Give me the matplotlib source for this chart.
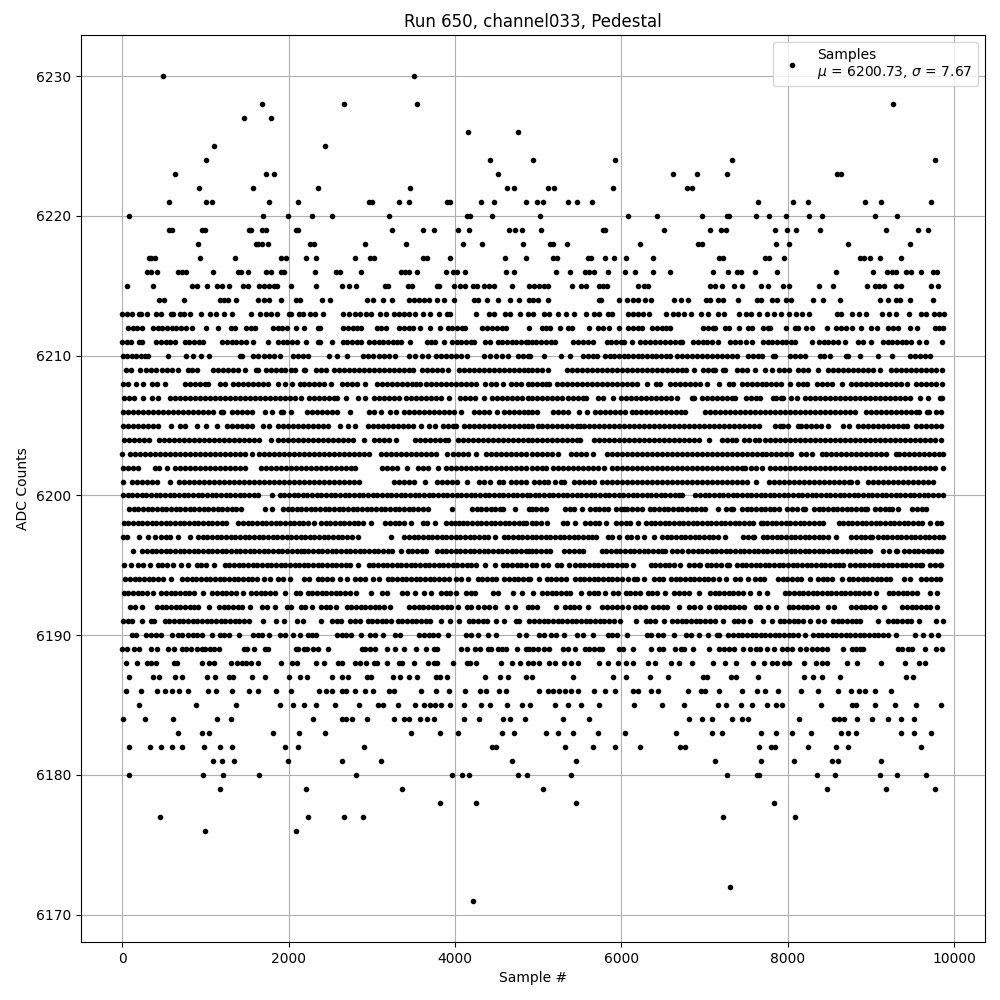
import matplotlib
matplotlib.use("Agg")
import matplotlib.pyplot as plt

TITLE = "Run 650, channel033, Pedestal"
XLABEL = "Sample #"
YLABEL = "ADC Counts"
LEGEND = "Samples\n$\\mu$ = 6200.73, $\\sigma$ = 7.67"

s6230 = [492, 3504]
s6228 = [1680, 2664, 3540, 9268]
s6227 = [1464, 1788]
s6226 = [4152, 4752]
s6225 = [1104, 2436]
s6224 = [1008, 4416, 4936, 5920, 7324, 9772]
s6223 = [636, 1728, 1828, 4512, 6616, 6904, 7264, 8596, 8636]
s6222 = [924, 1572, 2352, 3456, 4620, 4704, 5116, 5188, 5896, 6784, 6844]
s6221 = [564, 1008, 1080, 1764, 2112, 2964, 3004, 3324, 3444, 3904, 3944, 4308, 4464, 4848, 4984, 5064, 5356, 5464, 5644, 7636, 8068, 8248, 8932, 9124, 9724]
s6220 = [84, 1692, 1992, 2280, 2520, 3204, 4144, 4176, 4440, 5020, 6076, 6424, 6964, 7264, 7296, 7612, 7780, 7984, 8260, 8416, 9052, 9316]
s6219 = [564, 604, 964, 992, 1524, 1552, 1684, 1724, 2084, 2112, 3244, 3612, 3744, 4032, 4164, 4644, 4716, 4800, 5032, 5776, 5808, 6508, 7060, 7200, 7256, 7852, 7996, 8104, 8392, 9184, 9568, 9688]
s6218 = [912, 1604, 1636, 1680, 1752, 2256, 2304, 2916, 3408, 4092, 4320, 4812, 5148, 5184, 5344, 6220, 6916, 6964, 7864, 8020, 8728, 9472]
s6217 = [324, 344, 392, 936, 1356, 1904, 1968, 2208, 2328, 2796, 2976, 3024, 3612, 3664, 3944, 4596, 4848, 5176, 5224, 5596, 5636, 5800, 5908, 6052, 6376, 7168, 7216, 7732, 7776, 7956, 8872, 8916, 8992, 9112, 9364]
s6216 = [296, 344, 424, 672, 720, 768, 1092, 1392, 1424, 1512, 1728, 1792, 1904, 1944, 2316, 2568, 2616, 2868, 3348, 3396, 3444, 3544, 3888, 3972, 4024, 4116, 4608, 4704, 5212, 5380, 5560, 5608, 5676, 5836, 6040, 6160, 6376, 6580, 7096, 7276, 7384, 7432, 7600, 7876, 8584, 9028, 9196, 9256, 9296, 9416, 9476, 9604, 9748, 9796]
s6215 = [64, 372, 844, 896, 1020, 1140, 1200, 1280, 1456, 1512, 1644, 1704, 1764, 1824, 1864, 2028, 2328, 2640, 2724, 2808, 3156, 3192, 3432, 3484, 3780, 3812, 3984, 4056, 4124, 4212, 4264, 4344, 4404, 4464, 4680, 4884, 4956, 5016, 5076, 5116, 5404, 5512, 5572, 5728, 5776, 5824, 6196, 6268, 6316, 7060, 7120, 7204, 7348, 7444, 7672, 7768, 7948, 8020, 8380, 8548, 8956, 9052, 9096, 9156, 9304, 9356, 9724, 9808]
s6214 = [444, 504, 740, 1176, 1224, 1272, 1372, 1632, 1704, 1764, 1904, 2088, 2136, 2400, 2496, 2940, 3012, 3136, 3244, 3444, 3504, 3564, 3624, 3684, 3780, 3864, 3984, 4224, 4272, 4380, 4512, 4656, 4764, 4884, 4936, 4996, 5116, 5728, 5760, 5968, 6064, 6136, 6196, 6280, 6352, 6628, 6716, 6796, 7016, 7060, 7156, 7216, 7396, 7624, 7676, 7816, 7876, 7984, 8044, 8300, 8428, 8632, 9112, 9208, 9296, 9344, 9472, 9748]
s6213 = [4, 64, 124, 204, 232, 300, 404, 464, 584, 616, 696, 744, 816, 948, 1056, 1128, 1224, 1320, 1544, 1656, 1724, 1784, 1864, 2004, 2032, 2124, 2176, 2264, 2324, 2412, 2652, 2724, 2804, 2864, 2936, 2996, 3104, 3176, 3264, 3324, 3384, 3444, 3524, 3612, 3704, 3804, 3904, 3944, 4252, 4404, 4464, 4596, 4656, 4776, 4872, 4936, 5076, 5136, 5236, 5336, 5436, 5576, 5676, 5736, 5836, 5888, 6076, 6136, 6196, 6256, 6336, 6532, 6616, 6676, 6756, 6836, 6956, 7036, 7156, 7236, 7416, 7496, 7556, 7656, 7756, 7836, 7916, 8016, 8096, 8168, 8256, 8596, 8636, 8776, 8856, 8936, 9136, 9216, 9296, 9456, 9596, 9656, 9756, 9816, 9876]
s6212 = [72, 128, 184, 236, 372, 428, 480, 540, 596, 652, 708, 764, 836, 1008, 1152, 1312, 1356, 1492, 1548, 1596, 1812, 1868, 1924, 1976, 2084, 2192, 2352, 2376, 2660, 2716, 2772, 2820, 2876, 3060, 3116, 3176, 3332, 3388, 3444, 3500, 3576, 3704, 3824, 3912, 3968, 4024, 4080, 4116, 4324, 4380, 4440, 4500, 4560, 4616, 4884, 5044, 5100, 5148, 5268, 5364, 5408, 5608, 5724, 5780, 5848, 5968, 6084, 6140, 6196, 6248, 6372, 6428, 6488, 6540, 6588, 6984, 7040, 7096, 7128, 7244, 7288, 7408, 7524, 7568, 7704, 7760, 7788, 7984, 8084, 8128, 8224, 8288, 8468, 8584, 8640, 8700, 8768, 8876, 9004, 9068, 9204, 9260, 9328, 9464, 9548, 9764, 9820, 9868]
s6211 = [4, 56, 108, 204, 240, 412, 468, 524, 580, 636, 752, 808, 860, 920, 968, 1204, 1260, 1316, 1372, 1428, 1484, 1576, 1752, 1872, 1928, 1984, 2040, 2096, 2216, 2352, 2376, 2524, 2652, 2708, 2764, 2820, 2876, 2972, 3028, 3084, 3140, 3196, 3252, 3300, 3352, 3456, 3660, 3716, 3756, 3872, 3964, 4020, 4076, 4132, 4192, 4224, 4364, 4420, 4512, 4568, 4624, 4680, 4736, 4792, 4848, 4880, 4924, 4980, 5036, 5092, 5156, 5208, 5424, 5480, 5536, 5600, 5656, 5824, 5880, 5936, 5992, 6032, 6124, 6224, 6284, 6344, 6404, 6464, 6524, 6584, 6644, 6704, 6728, 6864, 6920, 6976, 7032, 7088, 7160, 7304, 7364, 7428, 7500, 7564, 7704, 7760, 7816, 7872, 7928, 7984, 8040, 8088, 8288, 8376, 8432, 8488, 8544, 8600, 8688, 8844, 8900, 8996, 9144, 9200, 9256, 9312, 9368, 9424, 9480, 9572, 9656, 9856]
s6210 = [12, 64, 120, 172, 224, 276, 316, 552, 764, 856, 952, 1044, 1412, 1444, 1572, 1636, 1700, 1764, 1828, 1896, 2052, 2112, 2172, 2240, 2484, 2584, 2704, 2892, 2956, 3020, 3084, 3148, 3212, 3276, 3452, 3524, 3600, 3676, 3772, 3832, 3892, 3952, 4012, 4076, 4144, 4352, 4424, 4496, 4568, 4636, 4752, 4812, 4876, 4896, 5068, 5276, 5384, 5544, 5600, 5656, 5708, 5804, 5860, 5916, 5972, 6028, 6084, 6140, 6196, 6252, 6308, 6364, 6420, 6476, 6532, 6588, 6664, 6724, 6784, 6844, 6904, 6964, 7024, 7084, 7144, 7204, 7264, 7324, 7388, 7524, 7584, 7644, 7688, 7824, 7848, 8024, 8084, 8148, 8208, 8384, 8440, 8508, 8704, 8728, 8864, 9084, 9256, 9464, 9524, 9584, 9644, 9708]
s6209 = [52, 108, 220, 284, 348, 412, 476, 540, 604, 676, 792, 844, 896, 1092, 1152, 1212, 1272, 1332, 1392, 1476, 1612, 1628, 1732, 1792, 1852, 1912, 1956, 2032, 2076, 2192, 2204, 2332, 2392, 2456, 2552, 2612, 2672, 2732, 2792, 2852, 2912, 2972, 3032, 3092, 3152, 3212, 3272, 3332, 3392, 3452, 3496, 3604, 3664, 3724, 3784, 3844, 3916, 4052, 4112, 4172, 4232, 4292, 4352, 4412, 4472, 4532, 4592, 4652, 4712, 4772, 4832, 4876, 4924, 4984, 5044, 5120, 5344, 5404, 5464, 5524, 5584, 5644, 5704, 5764, 5824, 5884, 5944, 6004, 6064, 6124, 6184, 6244, 6304, 6364, 6424, 6484, 6544, 6604, 6664, 6724, 6772, 6876, 6984, 7040, 7100, 7128, 7224, 7248, 7384, 7444, 7504, 7608, 7724, 7808, 7892, 7952, 8020, 8124, 8184, 8244, 8368, 8484, 8544, 8604, 8664, 8724, 8784, 8844, 8904, 8964, 9024, 9108, 9236, 9296, 9356, 9416, 9476, 9536, 9596, 9656, 9716, 9776, 9848]
s6208 = [12, 72, 164, 256, 364, 424, 516, 752, 812, 872, 932, 992, 1036, 1172, 1236, 1332, 1392, 1452, 1512, 1572, 1632, 1692, 1752, 1876, 1952, 2036, 2132, 2192, 2252, 2312, 2372, 2432, 2516, 2644, 2704, 2764, 2824, 2916, 3060, 3120, 3180, 3240, 3300, 3360, 3420, 3480, 3530, 3576, 3652, 3712, 3772, 3832, 3892, 3952, 4012, 4072, 4132, 4192, 4252, 4356, 4432, 4492, 4576, 4672, 4732, 4792, 4876, 4924, 4984, 5044, 5100, 5128, 5224, 5284, 5344, 5404, 5464, 5524, 5584, 5644, 5704, 5764, 5824, 5884, 5944, 6004, 6064, 6124, 6184, 6308, 6412, 6468, 6584, 6644, 6704, 6764, 6824, 6884, 6944, 7028, 7176, 7288, 7344, 7444, 7504, 7564, 7624, 7684, 7744, 7804, 7864, 7924, 8028, 8124, 8184, 8228, 8356, 8416, 8476, 8536, 8648, 8764, 8824, 8884, 8944, 9004, 9064, 9124, 9184, 9244, 9304, 9364, 9428, 9544, 9604, 9664, 9724, 9784, 9848]
s6207 = [20, 80, 140, 256, 364, 436, 572, 632, 692, 752, 812, 872, 932, 992, 1052, 1112, 1172, 1232, 1292, 1352, 1412, 1472, 1532, 1592, 1652, 1712, 1772, 1832, 1892, 1952, 2012, 2072, 2152, 2244, 2304, 2364, 2424, 2484, 2544, 2588, 2696, 2832, 2924, 3032, 3092, 3152, 3212, 3272, 3324, 3412, 3472, 3532, 3592, 3652, 3712, 3772, 3832, 3924, 4060, 4120, 4180, 4240, 4348, 4444, 4504, 4564, 4624, 4684, 4744, 4804, 4876, 4924, 4984, 5044, 5104, 5164, 5224, 5284, 5364, 5416, 5476, 5536, 5576, 5716, 5776, 5900, 5996, 6056, 6116, 6176, 6236, 6296, 6356, 6416, 6476, 6536, 6596, 6668, 6844, 6868, 6964, 7024, 7084, 7144, 7204, 7264, 7324, 7368, 7492, 7552, 7612, 7660, 7824, 7864, 7916, 7948, 8036, 8116, 8204, 8264, 8324, 8384, 8444, 8504, 8564, 8624, 8684, 8744, 8804, 8864, 8924, 8984, 9044, 9104, 9164, 9224, 9284, 9344, 9404, 9464, 9588, 9688, 9824, 9848]
s6206 = [12, 72, 132, 192, 252, 312, 372, 432, 492, 552, 612, 672, 732, 792, 852, 912, 972, 1032, 1096, 1192, 1212, 1324, 1384, 1444, 1504, 1564, 1716, 1804, 1912, 1936, 2032, 2220, 2280, 2340, 2400, 2460, 2520, 2580, 2736, 2972, 3032, 3116, 3220, 3296, 3392, 3452, 3512, 3572, 3632, 3692, 3752, 3812, 3872, 3932, 3992, 4076, 4232, 4292, 4352, 4412, 4508, 4592, 4652, 4712, 4772, 4832, 4876, 4924, 4984, 5184, 5244, 5304, 5360, 5488, 5584, 5684, 5744, 5804, 5864, 5924, 5984, 6044, 6124, 6176, 6236, 6296, 6356, 6416, 6476, 6536, 6596, 6656, 6716, 6764, 7004, 7064, 7124, 7184, 7244, 7304, 7364, 7424, 7484, 7544, 7604, 7664, 7724, 7784, 7844, 7904, 7964, 8024, 8084, 8144, 8204, 8264, 8324, 8384, 8444, 8504, 8564, 8628, 8684, 8744, 8808, 8944, 9004, 9064, 9124, 9184, 9244, 9304, 9364, 9424, 9484, 9544, 9580, 9676, 9700, 9780, 9844]
s6205 = [12, 72, 132, 192, 252, 312, 372, 432, 588, 692, 752, 900, 1004, 1144, 1256, 1316, 1376, 1436, 1496, 1556, 1696, 1768, 1872, 1932, 1992, 2052, 2112, 2172, 2232, 2292, 2352, 2412, 2472, 2616, 2712, 2804, 2952, 3012, 3072, 3132, 3192, 3252, 3312, 3372, 3432, 3492, 3588, 3692, 3756, 3852, 3912, 3972, 4012, 4112, 4172, 4232, 4292, 4352, 4412, 4472, 4532, 4592, 4652, 4712, 4772, 4832, 4876, 4924, 5004, 5044, 5104, 5164, 5224, 5284, 5344, 5404, 5464, 5504, 5556, 5616, 5676, 5736, 5796, 5856, 5916, 5976, 6036, 6096, 6156, 6216, 6276, 6336, 6396, 6456, 6516, 6576, 6636, 6696, 6756, 6816, 6876, 6936, 6996, 7056, 7116, 7176, 7236, 7296, 7356, 7416, 7476, 7536, 7596, 7652, 7844, 7904, 7948, 8008, 8124, 8164, 8224, 8284, 8344, 8404, 8484, 8664, 8740, 8848, 8908, 8968, 9028, 9088, 9148, 9208, 9268, 9328, 9388, 9432, 9544, 9604, 9664, 9724, 9784, 9844]
s6204 = [20, 80, 140, 200, 260, 320, 444, 504, 564, 624, 684, 744, 804, 864, 924, 984, 1044, 1104, 1164, 1224, 1284, 1344, 1404, 1464, 1524, 1584, 1644, 1788, 1872, 1932, 1992, 2052, 2112, 2172, 2232, 2292, 2352, 2412, 2472, 2532, 2592, 2652, 2712, 2772, 2912, 3032, 3092, 3152, 3212, 3288, 3524, 3584, 3644, 3704, 3764, 3824, 3884, 3916, 4032, 4092, 4152, 4212, 4272, 4332, 4392, 4452, 4512, 4572, 4632, 4692, 4752, 4812, 4872, 4924, 4984, 5044, 5104, 5164, 5224, 5284, 5344, 5404, 5464, 5508, 5676, 5736, 5796, 5856, 5916, 5976, 6036, 6096, 6156, 6216, 6276, 6336, 6396, 6456, 6516, 6576, 6636, 6696, 6756, 6816, 6876, 6936, 7048, 7204, 7264, 7324, 7380, 7476, 7536, 7608, 7652, 7724, 7784, 7844, 7904, 7964, 8024, 8084, 8144, 8204, 8264, 8324, 8384, 8444, 8504, 8564, 8624, 8684, 8744, 8804, 8864, 8924, 8984, 9044, 9104, 9164, 9224, 9284, 9344, 9404, 9464, 9524, 9584, 9644, 9704, 9764, 9844]
s6203 = [0, 100, 160, 220, 280, 340, 400, 460, 520, 580, 640, 700, 760, 820, 880, 940, 1000, 1060, 1120, 1180, 1240, 1300, 1360, 1420, 1480, 1556, 1644, 1704, 1764, 1824, 1884, 1944, 2004, 2064, 2124, 2184, 2244, 2304, 2364, 2424, 2484, 2544, 2604, 2664, 2724, 2784, 2844, 2904, 2964, 3116, 3176, 3236, 3296, 3356, 3416, 3476, 3536, 3596, 3656, 3716, 3776, 3908, 3976, 4036, 4096, 4156, 4256, 4372, 4432, 4492, 4552, 4612, 4672, 4732, 4792, 4852, 4924, 4984, 5044, 5104, 5164, 5240, 5396, 5456, 5516, 5576, 5656, 5824, 5884, 5944, 6004, 6064, 6124, 6184, 6244, 6304, 6364, 6424, 6484, 6544, 6604, 6664, 6724, 6784, 6844, 6904, 6964, 7024, 7084, 7144, 7204, 7264, 7324, 7384, 7444, 7504, 7564, 7624, 7684, 7744, 7804, 7864, 7924, 7984, 8044, 8156, 8216, 8292, 8412, 8464, 8524, 8584, 8644, 8704, 8764, 8824, 8884, 8944, 9004, 9064, 9116, 9180, 9300, 9340, 9400, 9460, 9520, 9580, 9640, 9700, 9760, 9820, 9860]
s6202 = [12, 72, 132, 196, 392, 448, 536, 632, 692, 752, 812, 872, 932, 992, 1052, 1112, 1172, 1232, 1292, 1352, 1412, 1472, 1668, 1728, 1788, 1848, 1908, 1968, 2028, 2088, 2148, 2208, 2268, 2328, 2388, 2448, 2508, 2568, 2628, 2688, 2748, 2796, 3124, 3184, 3244, 3304, 3428, 3552, 3612, 3672, 3796, 3892, 3952, 4012, 4072, 4132, 4192, 4252, 4312, 4372, 4432, 4492, 4552, 4612, 4672, 4732, 4792, 4852, 4924, 4984, 5044, 5100, 5184, 5244, 5304, 5364, 5424, 5484, 5544, 5604, 5664, 5724, 5796, 5884, 5944, 6004, 6064, 6124, 6184, 6244, 6304, 6364, 6424, 6484, 6544, 6604, 6664, 6724, 6784, 6844, 6904, 6964, 7024, 7084, 7144, 7204, 7264, 7324, 7384, 7444, 7484, 7556, 7616, 7684, 7784, 7844, 7904, 7964, 8024, 8084, 8144, 8204, 8264, 8324, 8384, 8444, 8504, 8564, 8624, 8684, 8744, 8804, 8864, 8924, 8984, 9044, 9104, 9164, 9224, 9284, 9344, 9404, 9464, 9524, 9584, 9644, 9704, 9764, 9860]
s6201 = [12, 124, 184, 244, 304, 364, 424, 576, 684, 744, 804, 864, 924, 984, 1044, 1104, 1164, 1224, 1284, 1344, 1404, 1464, 1524, 1584, 1644, 1704, 1764, 1824, 1884, 1944, 2004, 2064, 2124, 2184, 2244, 2304, 2364, 2424, 2484, 2544, 2604, 2664, 2724, 2784, 2852, 3272, 3332, 3392, 3452, 3512, 3644, 3784, 3844, 3904, 3964, 4024, 4144, 4292, 4352, 4424, 4524, 4580, 4672, 4732, 4792, 4852, 4956, 5016, 5076, 5120, 5204, 5276, 5316, 5436, 5496, 5556, 5616, 5668, 5772, 5832, 5892, 5952, 6012, 6072, 6132, 6192, 6252, 6312, 6372, 6432, 6492, 6552, 6612, 6672, 6732, 6792, 6852, 6912, 6972, 7032, 7092, 7152, 7212, 7272, 7332, 7392, 7452, 7512, 7612, 7772, 7832, 7892, 7952, 8012, 8072, 8132, 8192, 8252, 8312, 8372, 8432, 8492, 8552, 8612, 8672, 8732, 8764, 8836, 8968, 9028, 9088, 9148, 9208, 9268, 9328, 9388, 9448, 9508, 9568, 9628, 9688, 9744]
s6200 = [12, 68, 124, 180, 236, 292, 348, 404, 460, 516, 572, 628, 684, 740, 796, 852, 908, 964, 1020, 1076, 1132, 1188, 1244, 1300, 1356, 1412, 1468, 1524, 1580, 1636, 1804, 1892, 1948, 2004, 2060, 2116, 2172, 2228, 2284, 2340, 2396, 2452, 2508, 2564, 2620, 2676, 2732, 2788, 2844, 2900, 2956, 3012, 3068, 3124, 3180, 3236, 3292, 3348, 3404, 3460, 3516, 3572, 3628, 3684, 3740, 3796, 3852, 3908, 3964, 4020, 4076, 4132, 4188, 4244, 4300, 4356, 4412, 4468, 4524, 4580, 4636, 4692, 4748, 4804, 4860, 4904, 4960, 5016, 5072, 5128, 5184, 5240, 5296, 5352, 5408, 5464, 5520, 5576, 5632, 5688, 5744, 5800, 5856, 5912, 5968, 6024, 6080, 6136, 6192, 6248, 6304, 6360, 6416, 6472, 6528, 6584, 6640, 6696, 6732, 6888, 6944, 7000, 7056, 7112, 7168, 7224, 7280, 7336, 7392, 7448, 7504, 7560, 7616, 7672, 7728, 7784, 7840, 7896, 7952, 8008, 8064, 8120, 8176, 8232, 8288, 8344, 8400, 8456, 8512, 8568, 8624, 8680, 8736, 8792, 8848, 8904, 8960, 9016, 9072, 9128, 9184, 9240, 9296, 9352, 9408, 9464, 9520, 9576, 9632, 9688, 9744, 9800, 9860]
s6199 = [84, 140, 196, 252, 308, 364, 420, 476, 532, 588, 644, 700, 756, 812, 868, 924, 980, 1036, 1092, 1148, 1204, 1260, 1316, 1372, 1428, 1716, 1804, 1932, 1988, 2044, 2100, 2156, 2212, 2268, 2324, 2380, 2436, 2492, 2548, 2604, 2660, 2716, 2772, 2828, 2884, 2940, 2996, 3052, 3108, 3164, 3220, 3276, 3332, 3388, 3444, 3500, 3556, 3612, 3676, 3964, 4204, 4260, 4316, 4372, 4428, 4484, 4540, 4572, 4716, 4884, 4924, 4980, 5036, 5100, 5324, 5380, 5436, 5524, 5624, 5680, 5736, 5792, 5836, 5936, 5992, 6028, 6072, 6128, 6184, 6252, 6340, 6396, 6452, 6508, 6564, 6620, 6676, 6732, 6788, 6844, 6900, 6956, 7000, 7164, 7260, 7316, 7340, 7448, 7504, 7560, 7616, 7672, 7728, 7784, 7840, 7892, 7996, 8052, 8108, 8184, 8212, 8316, 8372, 8428, 8484, 8540, 8596, 8652, 8708, 8764, 8820, 8876, 8932, 8952, 9052, 9108, 9164, 9220, 9256, 9328, 9496, 9552, 9608, 9656]
s6198 = [20, 76, 132, 188, 244, 300, 356, 412, 468, 524, 580, 636, 692, 748, 804, 860, 916, 972, 1028, 1084, 1140, 1196, 1252, 1396, 1452, 1508, 1564, 1620, 1676, 1732, 1788, 1844, 1900, 1956, 2012, 2068, 2124, 2180, 2236, 2308, 2392, 2448, 2504, 2560, 2616, 2672, 2728, 2784, 2840, 2896, 2988, 3164, 3220, 3276, 3332, 3388, 3476, 3612, 3668, 3764, 3892, 3948, 4004, 4052, 4092, 4148, 4204, 4260, 4316, 4372, 4428, 4484, 4540, 4596, 4652, 4708, 4764, 4820, 4856, 4924, 4980, 5036, 5108, 5296, 5352, 5448, 5568, 5624, 5680, 5736, 5816, 5940, 5996, 6052, 6108, 6196, 6296, 6352, 6408, 6464, 6520, 6576, 6632, 6688, 6744, 6800, 6856, 6912, 6968, 7024, 7080, 7136, 7192, 7248, 7304, 7360, 7416, 7472, 7528, 7584, 7672, 7696, 7752, 7808, 7864, 7920, 7976, 8032, 8088, 8144, 8200, 8256, 8312, 8372, 8424, 8612, 8664, 8720, 8776, 8832, 8888, 8944, 9000, 9056, 9112, 9168, 9224, 9280, 9336, 9392, 9448, 9504, 9560, 9612, 9712, 9788, 9844]
s6197 = [12, 60, 204, 312, 392, 472, 524, 580, 676, 816, 912, 968, 1024, 1080, 1136, 1192, 1248, 1304, 1360, 1416, 1472, 1528, 1584, 1640, 1696, 1752, 1808, 1864, 1920, 1976, 2032, 2088, 2144, 2200, 2256, 2312, 2368, 2424, 2480, 2536, 2592, 2648, 2704, 2760, 2832, 3232, 3392, 3448, 3504, 3560, 3616, 3672, 3728, 3784, 3840, 3896, 3952, 4008, 4064, 4120, 4176, 4232, 4288, 4344, 4400, 4480, 4584, 4640, 4696, 4752, 4808, 4864, 4924, 4980, 5036, 5092, 5148, 5204, 5260, 5316, 5372, 5428, 5484, 5540, 5596, 5652, 5692, 5836, 5892, 5968, 6064, 6120, 6184, 6268, 6388, 6488, 6544, 6600, 6656, 6712, 6768, 6824, 6880, 6936, 6992, 7048, 7104, 7160, 7240, 7464, 7520, 7580, 7596, 7700, 7756, 7812, 7868, 7924, 7980, 8036, 8092, 8148, 8204, 8260, 8316, 8372, 8428, 8484, 8576, 8764, 8820, 8876, 8932, 8988, 9012, 9084, 9140, 9196, 9252, 9308, 9364, 9420, 9476, 9532, 9588, 9644, 9700, 9756, 9812, 9868]
s6196 = [132, 244, 300, 356, 412, 468, 524, 580, 636, 692, 748, 804, 860, 916, 972, 1028, 1084, 1140, 1196, 1252, 1308, 1364, 1420, 1476, 1532, 1588, 1644, 1700, 1756, 1812, 1868, 1924, 1980, 2036, 2104, 2156, 2184, 2240, 2296, 2352, 2408, 2464, 2520, 2576, 2632, 2688, 2744, 2800, 2856, 2912, 2968, 3024, 3080, 3136, 3192, 3248, 3356, 3432, 3488, 3544, 3600, 3648, 3784, 3840, 3896, 3952, 4008, 4064, 4120, 4176, 4232, 4288, 4344, 4400, 4456, 4512, 4568, 4624, 4680, 4736, 4792, 4848, 4884, 4924, 4980, 5036, 5092, 5148, 5316, 5376, 5436, 5496, 5540, 5764, 5820, 5876, 5932, 5988, 6044, 6100, 6156, 6212, 6268, 6324, 6380, 6436, 6492, 6528, 6608, 6664, 6728, 6804, 6860, 6916, 6972, 7028, 7084, 7140, 7196, 7252, 7308, 7364, 7420, 7476, 7532, 7588, 7644, 7700, 7756, 7812, 7868, 7924, 7980, 8036, 8092, 8148, 8204, 8260, 8316, 8372, 8428, 8484, 8540, 8596, 8652, 8708, 8764, 8820, 8876, 8932, 8984, 9140, 9216, 9296, 9316, 9400, 9456, 9512, 9568, 9624, 9680, 9736, 9792, 9844]
s6195 = [20, 108, 192, 248, 332, 428, 484, 540, 616, 708, 796, 900, 952, 1012, 1104, 1232, 1288, 1344, 1400, 1456, 1512, 1568, 1624, 1680, 1736, 1792, 1848, 1904, 1960, 2016, 2072, 2128, 2184, 2240, 2296, 2352, 2408, 2464, 2520, 2576, 2632, 2688, 2744, 2836, 2964, 3020, 3076, 3132, 3188, 3244, 3300, 3356, 3412, 3468, 3524, 3580, 3636, 3692, 3748, 3804, 3860, 3916, 3972, 4028, 4084, 4140, 4196, 4248, 4364, 4484, 4572, 4628, 4684, 4740, 4796, 4852, 4924, 4980, 5056, 5124, 5224, 5280, 5372, 5444, 5500, 5556, 5612, 5668, 5724, 5780, 5836, 5892, 5948, 6004, 6060, 6136, 6352, 6408, 6464, 6520, 6576, 6632, 6708, 6816, 6872, 6928, 6948, 7024, 7080, 7136, 7192, 7264, 7292, 7388, 7444, 7500, 7556, 7612, 7668, 7724, 7780, 7836, 7892, 7948, 8004, 8060, 8116, 8172, 8228, 8284, 8340, 8396, 8452, 8508, 8564, 8620, 8664, 8752, 8808, 8864, 8920, 8976, 9032, 9088, 9144, 9200, 9256, 9312, 9368, 9424, 9480, 9536, 9592, 9616, 9712, 9768, 9824, 9844]
s6194 = [40, 96, 152, 208, 264, 320, 376, 432, 496, 592, 724, 780, 836, 892, 948, 1004, 1060, 1116, 1172, 1228, 1284, 1340, 1396, 1452, 1508, 1564, 1616, 1704, 1776, 1872, 1928, 2016, 2192, 2244, 2352, 2408, 2464, 2520, 2616, 2704, 2804, 2860, 2916, 3016, 3084, 3192, 3248, 3304, 3360, 3416, 3472, 3528, 3584, 3640, 3696, 3752, 3808, 3864, 3924, 4012, 4068, 4156, 4272, 4328, 4384, 4440, 4496, 4592, 4648, 4704, 4760, 4816, 4876, 4896, 5008, 5104, 5160, 5216, 5276, 5340, 5444, 5500, 5556, 5612, 5668, 5724, 5780, 5836, 5892, 5948, 6004, 6076, 6156, 6188, 6268, 6396, 6452, 6500, 6596, 6652, 6708, 6764, 6820, 6876, 6932, 6988, 7044, 7100, 7176, 7256, 7364, 7428, 7516, 7604, 7660, 7716, 7884, 7940, 7996, 8052, 8108, 8164, 8268, 8364, 8420, 8476, 8532, 8648, 8732, 8788, 8844, 8900, 8956, 9012, 9068, 9124, 9180, 9228, 9396, 9468, 9604, 9660, 9716, 9780, 9828]
s6193 = [20, 76, 132, 188, 244, 300, 376, 472, 528, 584, 640, 696, 752, 808, 864, 976, 1084, 1140, 1196, 1252, 1308, 1364, 1456, 1552, 1608, 1664, 1720, 1776, 1832, 1956, 2084, 2136, 2232, 2288, 2344, 2400, 2456, 2512, 2568, 2624, 2680, 2736, 2816, 2992, 3124, 3188, 3364, 3420, 3524, 3632, 3716, 3832, 3888, 3944, 4016, 4132, 4188, 4236, 4452, 4516, 4700, 4804, 4936, 5052, 5108, 5164, 5220, 5276, 5332, 5388, 5516, 5612, 5668, 5724, 5800, 5900, 5956, 6052, 6108, 6164, 6220, 6316, 6372, 6428, 6528, 6636, 6692, 6748, 6808, 6928, 7064, 7120, 7176, 7232, 7288, 7344, 7400, 7456, 7548, 7656, 7756, 7964, 8020, 8076, 8132, 8188, 8244, 8300, 8356, 8412, 8468, 8524, 8580, 8636, 8692, 8748, 8804, 8860, 8916, 8972, 9056, 9212, 9268, 9324, 9380, 9436, 9492, 9556, 9704, 9796]
s6192 = [100, 156, 236, 420, 476, 532, 588, 644, 700, 756, 812, 868, 916, 1044, 1164, 1220, 1276, 1332, 1388, 1444, 1536, 1684, 1740, 1836, 1980, 2028, 2152, 2196, 2284, 2392, 2448, 2504, 2576, 2700, 2756, 2812, 2868, 2924, 2980, 3036, 3092, 3148, 3216, 3452, 3508, 3564, 3620, 3676, 3732, 3788, 3844, 3900, 3956, 4036, 4140, 4196, 4276, 4352, 4408, 4476, 4624, 4716, 4872, 4924, 4988, 5216, 5324, 5380, 5436, 5496, 5596, 5772, 5828, 5884, 5948, 6008, 6076, 6164, 6220, 6288, 6384, 6440, 6496, 6552, 6688, 6812, 6868, 6940, 7048, 7132, 7188, 7244, 7300, 7356, 7412, 7476, 7612, 7668, 7768, 7856, 8012, 8068, 8124, 8180, 8236, 8292, 8348, 8488, 8556, 8764, 8820, 8876, 8932, 8988, 9044, 9156, 9376, 9432, 9488, 9544, 9600, 9656, 9712, 9796]
s6191 = [12, 68, 124, 244, 352, 388, 512, 568, 624, 680, 736, 792, 848, 904, 960, 1016, 1072, 1128, 1184, 1240, 1296, 1352, 1408, 1464, 1524, 1696, 1852, 1948, 2100, 2176, 2392, 2524, 2580, 2636, 2740, 2796, 2856, 2952, 3008, 3064, 3120, 3176, 3236, 3312, 3368, 3424, 3480, 3536, 3592, 3648, 3704, 3836, 3940, 4044, 4164, 4220, 4276, 4332, 4388, 4496, 4592, 4732, 4764, 4884, 4956, 5012, 5068, 5124, 5180, 5236, 5292, 5348, 5404, 5460, 5516, 5572, 5628, 5684, 5740, 5796, 5852, 5908, 5988, 6176, 6292, 6348, 6404, 6508, 6612, 6668, 6724, 6780, 6836, 6892, 6948, 7004, 7060, 7120, 7220, 7348, 7404, 7460, 7540, 7704, 7808, 7904, 7960, 8016, 8072, 8128, 8188, 8268, 8364, 8440, 8544, 8600, 8656, 8712, 8768, 8824, 8868, 9084, 9204, 9260, 9316, 9372, 9428, 9484, 9580, 9776, 9860]
s6190 = [124, 164, 292, 348, 404, 464, 596, 672, 716, 792, 848, 904, 960, 1076, 1172, 1228, 1284, 1404, 1572, 1628, 1684, 1764, 1900, 1956, 2056, 2140, 2232, 2288, 2336, 2584, 2640, 2696, 2752, 2876, 2980, 3036, 3136, 3280, 3336, 3572, 3628, 3684, 3740, 3796, 3916, 4132, 4188, 4276, 4392, 4492, 4772, 4856, 5012, 5068, 5156, 5212, 5316, 5464, 5540, 5664, 5836, 5892, 5948, 6068, 6304, 6356, 6444, 6500, 6636, 6776, 6832, 6928, 7036, 7144, 7168, 7284, 7340, 7396, 7452, 7508, 7564, 7620, 7676, 7732, 7788, 7844, 7900, 7956, 8012, 8068, 8124, 8208, 8304, 8360, 8416, 8472, 8528, 8584, 8640, 8696, 8752, 8808, 8864, 8920, 8976, 9032, 9088, 9148, 9208, 9304, 9524, 9628, 9716, 9808]
s6189 = [4, 64, 144, 204, 344, 424, 556, 624, 724, 764, 832, 904, 964, 992, 1056, 1104, 1168, 1464, 1496, 1584, 1712, 1756, 2084, 2112, 2184, 2224, 2296, 2352, 2472, 2884, 2924, 2984, 3044, 3180, 3276, 3392, 3528, 3648, 3744, 3784, 4068, 4148, 4236, 4296, 4392, 4432, 4512, 4560, 4608, 4744, 4856, 4884, 4936, 4996, 5076, 5136, 5296, 5356, 5440, 5568, 5616, 5676, 5736, 5768, 5968, 6016, 6144, 6352, 6456, 6496, 6640, 6716, 6756, 6864, 7048, 7168, 7236, 7296, 7356, 7456, 7544, 7616, 7664, 7756, 7840, 7936, 7996, 8056, 8144, 8216, 8296, 8356, 8416, 8476, 8660, 8768, 8816, 8864, 8904, 9328, 9376, 9440, 9496, 9652, 9784, 9848]
s6188 = [44, 184, 296, 344, 404, 624, 664, 964, 1044, 1104, 1312, 1376, 1444, 1484, 1552, 1632, 1904, 2044, 2104, 2328, 2424, 2592, 2640, 2796, 2856, 2928, 3024, 3064, 3180, 3324, 3364, 3504, 3672, 3744, 3784, 3972, 4144, 4184, 4248, 4552, 4684, 4776, 4872, 4936, 5008, 5128, 5200, 5316, 5396, 5480, 5728, 5836, 5956, 6056, 6144, 6316, 6400, 6592, 6688, 6848, 7096, 7240, 7372, 7576, 7708, 7816, 7876, 7956, 8016, 8200, 8336, 8416, 8476, 8716, 8836, 9124, 9412, 9576, 9652]
s6187 = [84, 372, 444, 636, 724, 1016, 1120, 1284, 1332, 1560, 1716, 2004, 2132, 2220, 2524, 2644, 2712, 2944, 2996, 3252, 3336, 3444, 3548, 3776, 3824, 3900, 4356, 4536, 4632, 4848, 4928, 5416, 5896, 6052, 6340, 6556, 6976, 7024, 7316, 7376, 7636, 8196, 8308, 8416, 8632, 9424, 9508]
s6186 = [48, 228, 424, 516, 600, 684, 796, 1032, 1128, 1320, 1520, 1628, 1844, 2028, 2364, 2456, 2524, 2640, 2688, 2796, 2916, 3012, 3204, 3264, 3588, 3768, 3924, 4116, 4304, 4368, 4524, 4608, 5016, 5116, 5176, 5248, 5328, 5396, 5480, 5668, 5800, 5920, 6136, 6196, 6356, 6436, 6796, 6952, 7008, 7168, 7444, 7624, 7728, 7888, 8164, 8368, 8608, 8760, 8860, 8932, 9052, 9240]
s6185 = [204, 888, 1368, 1896, 2052, 2192, 2328, 2564, 2844, 3072, 3140, 3312, 3516, 3624, 3696, 3764, 3828, 3936, 4104, 4308, 4416, 4624, 4800, 4896, 5200, 5364, 5512, 5728, 6148, 6484, 6748, 7156, 7252, 7432, 7564, 7756, 7856, 7936, 8404, 8776, 8824, 9052, 9288, 9536, 9844]
s6184 = [12, 272, 612, 1140, 1308, 2292, 2640, 2688, 2760, 2940, 3264, 3384, 3444, 3584, 3664, 3744, 4104, 4284, 4576, 4656, 4836, 5296, 5608, 6808, 6964, 7084, 7324, 7444, 7516, 8136, 8556, 8616, 8676, 8836, 9016, 9208, 9356, 9520]
s6183 = [672, 960, 1044, 1812, 2124, 2436, 3468, 3824, 4032, 4560, 4704, 5092, 5236, 5416, 5716, 6040, 6652, 7084, 7204, 7680, 7864, 8056, 8284, 8640, 8728, 8824, 9364, 9520, 9724]
s6182 = [84, 336, 468, 600, 720, 984, 1172, 1320, 1956, 2112, 2904, 4444, 4492, 5320, 5656, 5920, 6228, 6700, 6760, 7648, 7804, 7852, 8248, 8584, 8728, 9604]
s6181 = [1092, 1200, 1344, 1992, 2640, 3108, 4680, 5452, 7120, 7672, 8080, 8536, 8608, 9124]
s6180 = [84, 972, 1212, 1644, 2808, 3960, 4080, 4164, 4752, 4860, 5392, 7264, 7624, 7648, 8356, 8572, 9112, 9316, 9664]
s6179 = [1176, 2208, 3360, 5056, 8476, 9184, 9772]
s6178 = [3816, 4248, 5452, 7840]
s6177 = [456, 2232, 2664, 2892, 7216, 8092]
s6176 = [996, 2088]
s6172 = [7300]
s6171 = [4212]

levels = [6230, 6228, 6227, 6226, 6225, 6224, 6223, 6222, 6221, 6220, 6219, 6218, 6217, 6216, 6215,
          6214, 6213, 6212, 6211, 6210, 6209, 6208, 6207, 6206, 6205, 6204, 6203, 6202, 6201, 6200,
          6199, 6198, 6197, 6196, 6195, 6194, 6193, 6192, 6191, 6190, 6189, 6188, 6187, 6186, 6185,
          6184, 6183, 6182, 6181, 6180, 6179, 6178, 6177, 6176, 6172, 6171]
rows = [s6230, s6228, s6227, s6226, s6225, s6224, s6223, s6222, s6221, s6220, s6219, s6218, s6217, s6216, s6215,
        s6214, s6213, s6212, s6211, s6210, s6209, s6208, s6207, s6206, s6205, s6204, s6203, s6202, s6201, s6200,
        s6199, s6198, s6197, s6196, s6195, s6194, s6193, s6192, s6191, s6190, s6189, s6188, s6187, s6186, s6185,
        s6184, s6183, s6182, s6181, s6180, s6179, s6178, s6177, s6176, s6172, s6171]

xs, ys = [], []
for level, row in zip(levels, rows):
    xs.extend(row)
    ys.extend([level] * len(row))

fig, ax = plt.subplots(figsize=(10, 10), dpi=100)
ax.plot(xs, ys, "k.", label=LEGEND)
ax.set_title(TITLE)
ax.set_xlabel(XLABEL)
ax.set_ylabel(YLABEL)
ax.legend(loc="upper right")
ax.grid(True)
fig.subplots_adjust(left=0.081, right=0.985, top=0.965, bottom=0.058)
fig.savefig("out.png", dpi=100)
